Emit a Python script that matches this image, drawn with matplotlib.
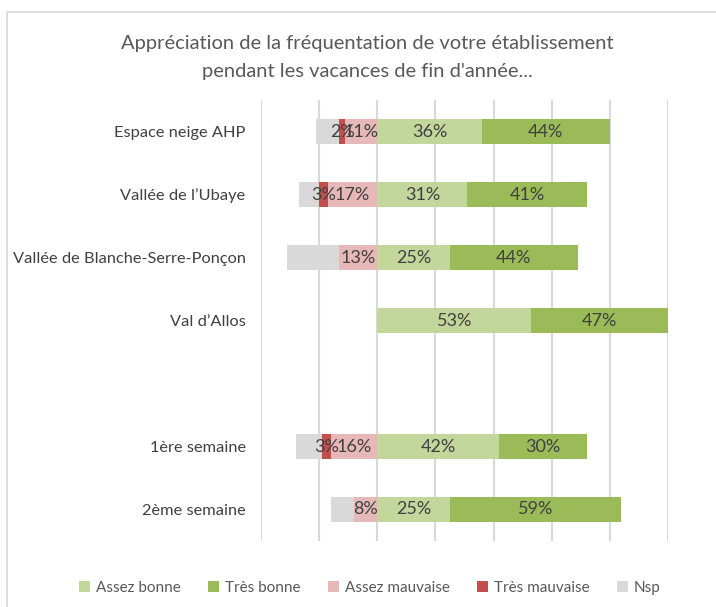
import numpy as np
import matplotlib
matplotlib.use('agg')
import matplotlib.pyplot as plt
from matplotlib.patches import Rectangle

plt.rcParams['font.family'] = ['Lato', 'DejaVu Sans']

categories = ['Espace neige AHP', 'Vallée de l\u2019Ubaye', 'Vallée de Blanche-Serre-Ponçon',
              'Val d\u2019Allos', '', '1ère semaine', '2ème semaine']
assez_bonne = [36, 31, 25, 53, 0, 42, 25]
tres_bonne = [44, 41, 44, 47, 0, 30, 59]
assez_mauvaise = [11, 17, 13, 0, 0, 16, 8]
tres_mauvaise = [2, 3, 0, 0, 0, 3, 0]
nsp = [8, 7, 18, 0, 0, 9, 8]

col_ab = '#C3D69B'
col_tb = '#9BBB59'
col_am = '#E6B8B7'
col_tm = '#C0504D'
col_nsp = '#D9D9D9'
txt = '#404040'

fig = plt.figure(figsize=(7.16, 6.07), dpi=100)
ax = fig.add_axes([261/716, 1-541/607, 407/716, 441/607])

y = np.arange(len(categories))
ab = np.array(assez_bonne)
tb = np.array(tres_bonne)
am = np.array(assez_mauvaise)
tm = np.array(tres_mauvaise)
ns = np.array(nsp)
h = 0.4

b_ab = ax.barh(y, ab, h, left=0, color=col_ab, label='Assez bonne')
b_tb = ax.barh(y, tb, h, left=ab, color=col_tb, label='Très bonne')
b_am = ax.barh(y, -am, h, left=0, color=col_am, label='Assez mauvaise')
b_tm = ax.barh(y, -tm, h, left=-am, color=col_tm, label='Très mauvaise')
b_ns = ax.barh(y, -ns, h, left=-am-tm, color=col_nsp, label='Nsp')

def put_labels(vals, lefts, sign):
    for i, (v, l) in enumerate(zip(vals, lefts)):
        if v > 0:
            ax.text(l + sign*v/2, i, f'{v}%', ha='center', va='center',
                    fontsize=13, color=txt)

put_labels(ab, np.zeros_like(ab), 1)
put_labels(tb, ab, 1)
put_labels(am, np.zeros_like(am), -1)
put_labels(tm, -am, -1)

ax.set_xlim(-40, 100)
ax.set_ylim(len(categories)-0.5, -0.5)
ax.set_xticks(np.arange(-40, 101, 20))
ax.set_xticklabels([])
ax.tick_params(axis='x', length=0)
ax.tick_params(axis='y', length=0, pad=11, labelsize=11.8, labelcolor='#404040')
ax.set_yticks(y)
ax.set_yticklabels(categories)
ax.grid(axis='x', color='#D9D9D9', linewidth=1.5)
ax.set_axisbelow(True)
for s in ax.spines.values():
    s.set_visible(False)

fig.text(367/716, 1-44/607, 'Appréciation de la fréquentation de votre établissement',
         ha='center', va='center', fontsize=14.5, color='#595959')
fig.text(367/716, 1-72/607, "pendant les vacances de fin d'année...",
         ha='center', va='center', fontsize=14.5, color='#595959')

fig.legend(handles=[b_ab, b_tb, b_am, b_tm, b_ns], loc='center', ncol=5,
           bbox_to_anchor=(370/716, 1-588/607), frameon=False, fontsize=11,
           handlelength=0.7, handleheight=0.7, handletextpad=0.4, columnspacing=1.8,
           labelcolor='#595959')

fig.patches.append(Rectangle((7/716, -0.1), 1.2, 1.1-12/607, transform=fig.transFigure,
                             fill=False, edgecolor='#D9D9D9', linewidth=1.2))

fig.savefig('out.png', dpi=100)
